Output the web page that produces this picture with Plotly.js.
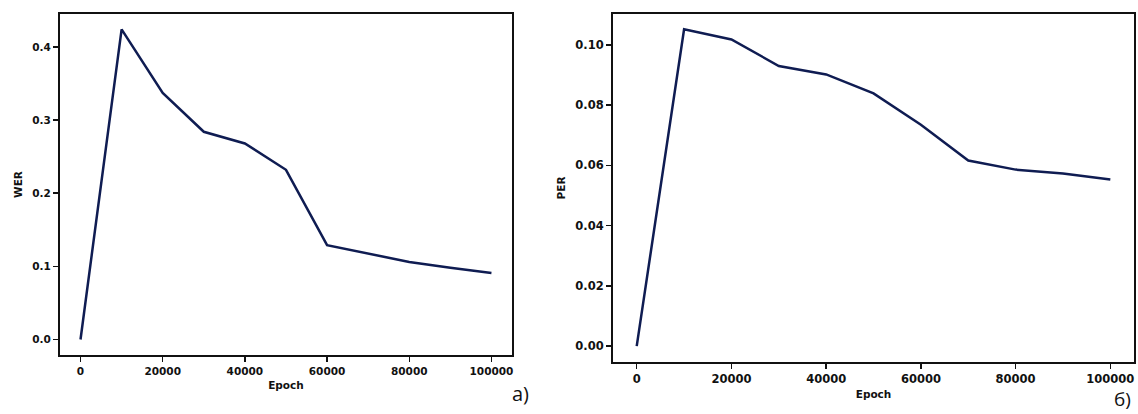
<!DOCTYPE html>
<html>
<head>
<meta charset="utf-8">
<script src="https://cdn.plot.ly/plotly-3.0.1.min.js"></script>
<style>html,body{margin:0;padding:0;background:#fff;}#chart{width:1138px;height:414px;}</style>
</head>
<body>
<div id="chart"></div>
<script>
const epochs = [0, 10000, 20000, 30000, 40000, 50000, 60000, 70000, 80000, 90000, 100000];
const werValues = [0, 0.424, 0.337, 0.284, 0.268, 0.232, 0.129, 0.118, 0.106, 0.098, 0.091];
const perValues = [0, 0.1052, 0.1018, 0.093, 0.0902, 0.0839, 0.0735, 0.0616, 0.0586, 0.0573, 0.0553];
const xTickVals = [0, 20000, 40000, 60000, 80000, 100000];
const panelLabels = ['а)', 'б)'];

const lineColor = '#0f1c52';
const tickFont = {family: 'DejaVu Sans', size: 11, color: '#111', weight: 'bold'};
const titleFont = {family: 'DejaVu Sans', size: 10.5, color: '#111', weight: 'bold'};

function xAxis(domain, anchor, fontSize) {
  return {
    domain: domain, anchor: anchor, range: [-5000, 105000],
    tickvals: xTickVals, tickformat: 'd',
    ticks: 'outside', ticklen: 5, tickwidth: 1.5, tickcolor: '#111',
    showline: true, linewidth: 2, linecolor: '#111', mirror: true,
    showgrid: false, zeroline: false,
    tickfont: Object.assign({}, tickFont, {size: fontSize}),
    title: {text: 'Epoch', font: titleFont, standoff: 6}
  };
}
function yAxis(domain, anchor, range, dtick, fmt, title, fontSize) {
  return {
    domain: domain, anchor: anchor, range: range,
    dtick: dtick, tick0: 0, tickformat: fmt,
    ticks: 'outside', ticklen: 5, tickwidth: 1.5, tickcolor: '#111',
    showline: true, linewidth: 2, linecolor: '#111', mirror: true,
    showgrid: false, zeroline: false,
    tickfont: Object.assign({}, tickFont, {size: fontSize}),
    title: {text: title, font: titleFont, standoff: 8}
  };
}

const data = [
  {x: epochs, y: werValues, type: 'scatter', mode: 'lines', xaxis: 'x', yaxis: 'y',
   line: {color: lineColor, width: 2.5}, hoverinfo: 'skip'},
  {x: epochs, y: perValues, type: 'scatter', mode: 'lines', xaxis: 'x2', yaxis: 'y2',
   line: {color: lineColor, width: 2.5}, hoverinfo: 'skip'}
];

const layout = {
  width: 1138, height: 414,
  margin: {l: 0, r: 0, t: 0, b: 0},
  paper_bgcolor: '#fff', plot_bgcolor: '#fff',
  showlegend: false,
  xaxis: xAxis([0.0527, 0.4499], 'y', 10.5),
  yaxis: yAxis([0.1425, 0.9662], 'x', [-0.0212, 0.445], 0.1, '.1f', 'WER', 10.5),
  xaxis2: xAxis([0.5387, 0.9965], 'y2', 11.5),
  yaxis2: yAxis([0.1256, 0.9662], 'x2', [-0.00525, 0.11025], 0.02, '.2f', 'PER', 11.5),
  annotations: [
    {text: panelLabels[0], xref: 'paper', yref: 'paper', x: 520/1138, y: 1 - 393/414,
     xanchor: 'center', yanchor: 'middle', showarrow: false,
     font: {family: 'Open Sans', size: 20, color: '#111'}},
    {text: panelLabels[1], xref: 'paper', yref: 'paper', x: 1122/1138, y: 1 - 399/414,
     xanchor: 'center', yanchor: 'middle', showarrow: false,
     font: {family: 'Open Sans', size: 19, color: '#111'}}
  ]
};

Plotly.newPlot('chart', data, layout, {displayModeBar: false, staticPlot: true});
</script>
</body>
</html>
